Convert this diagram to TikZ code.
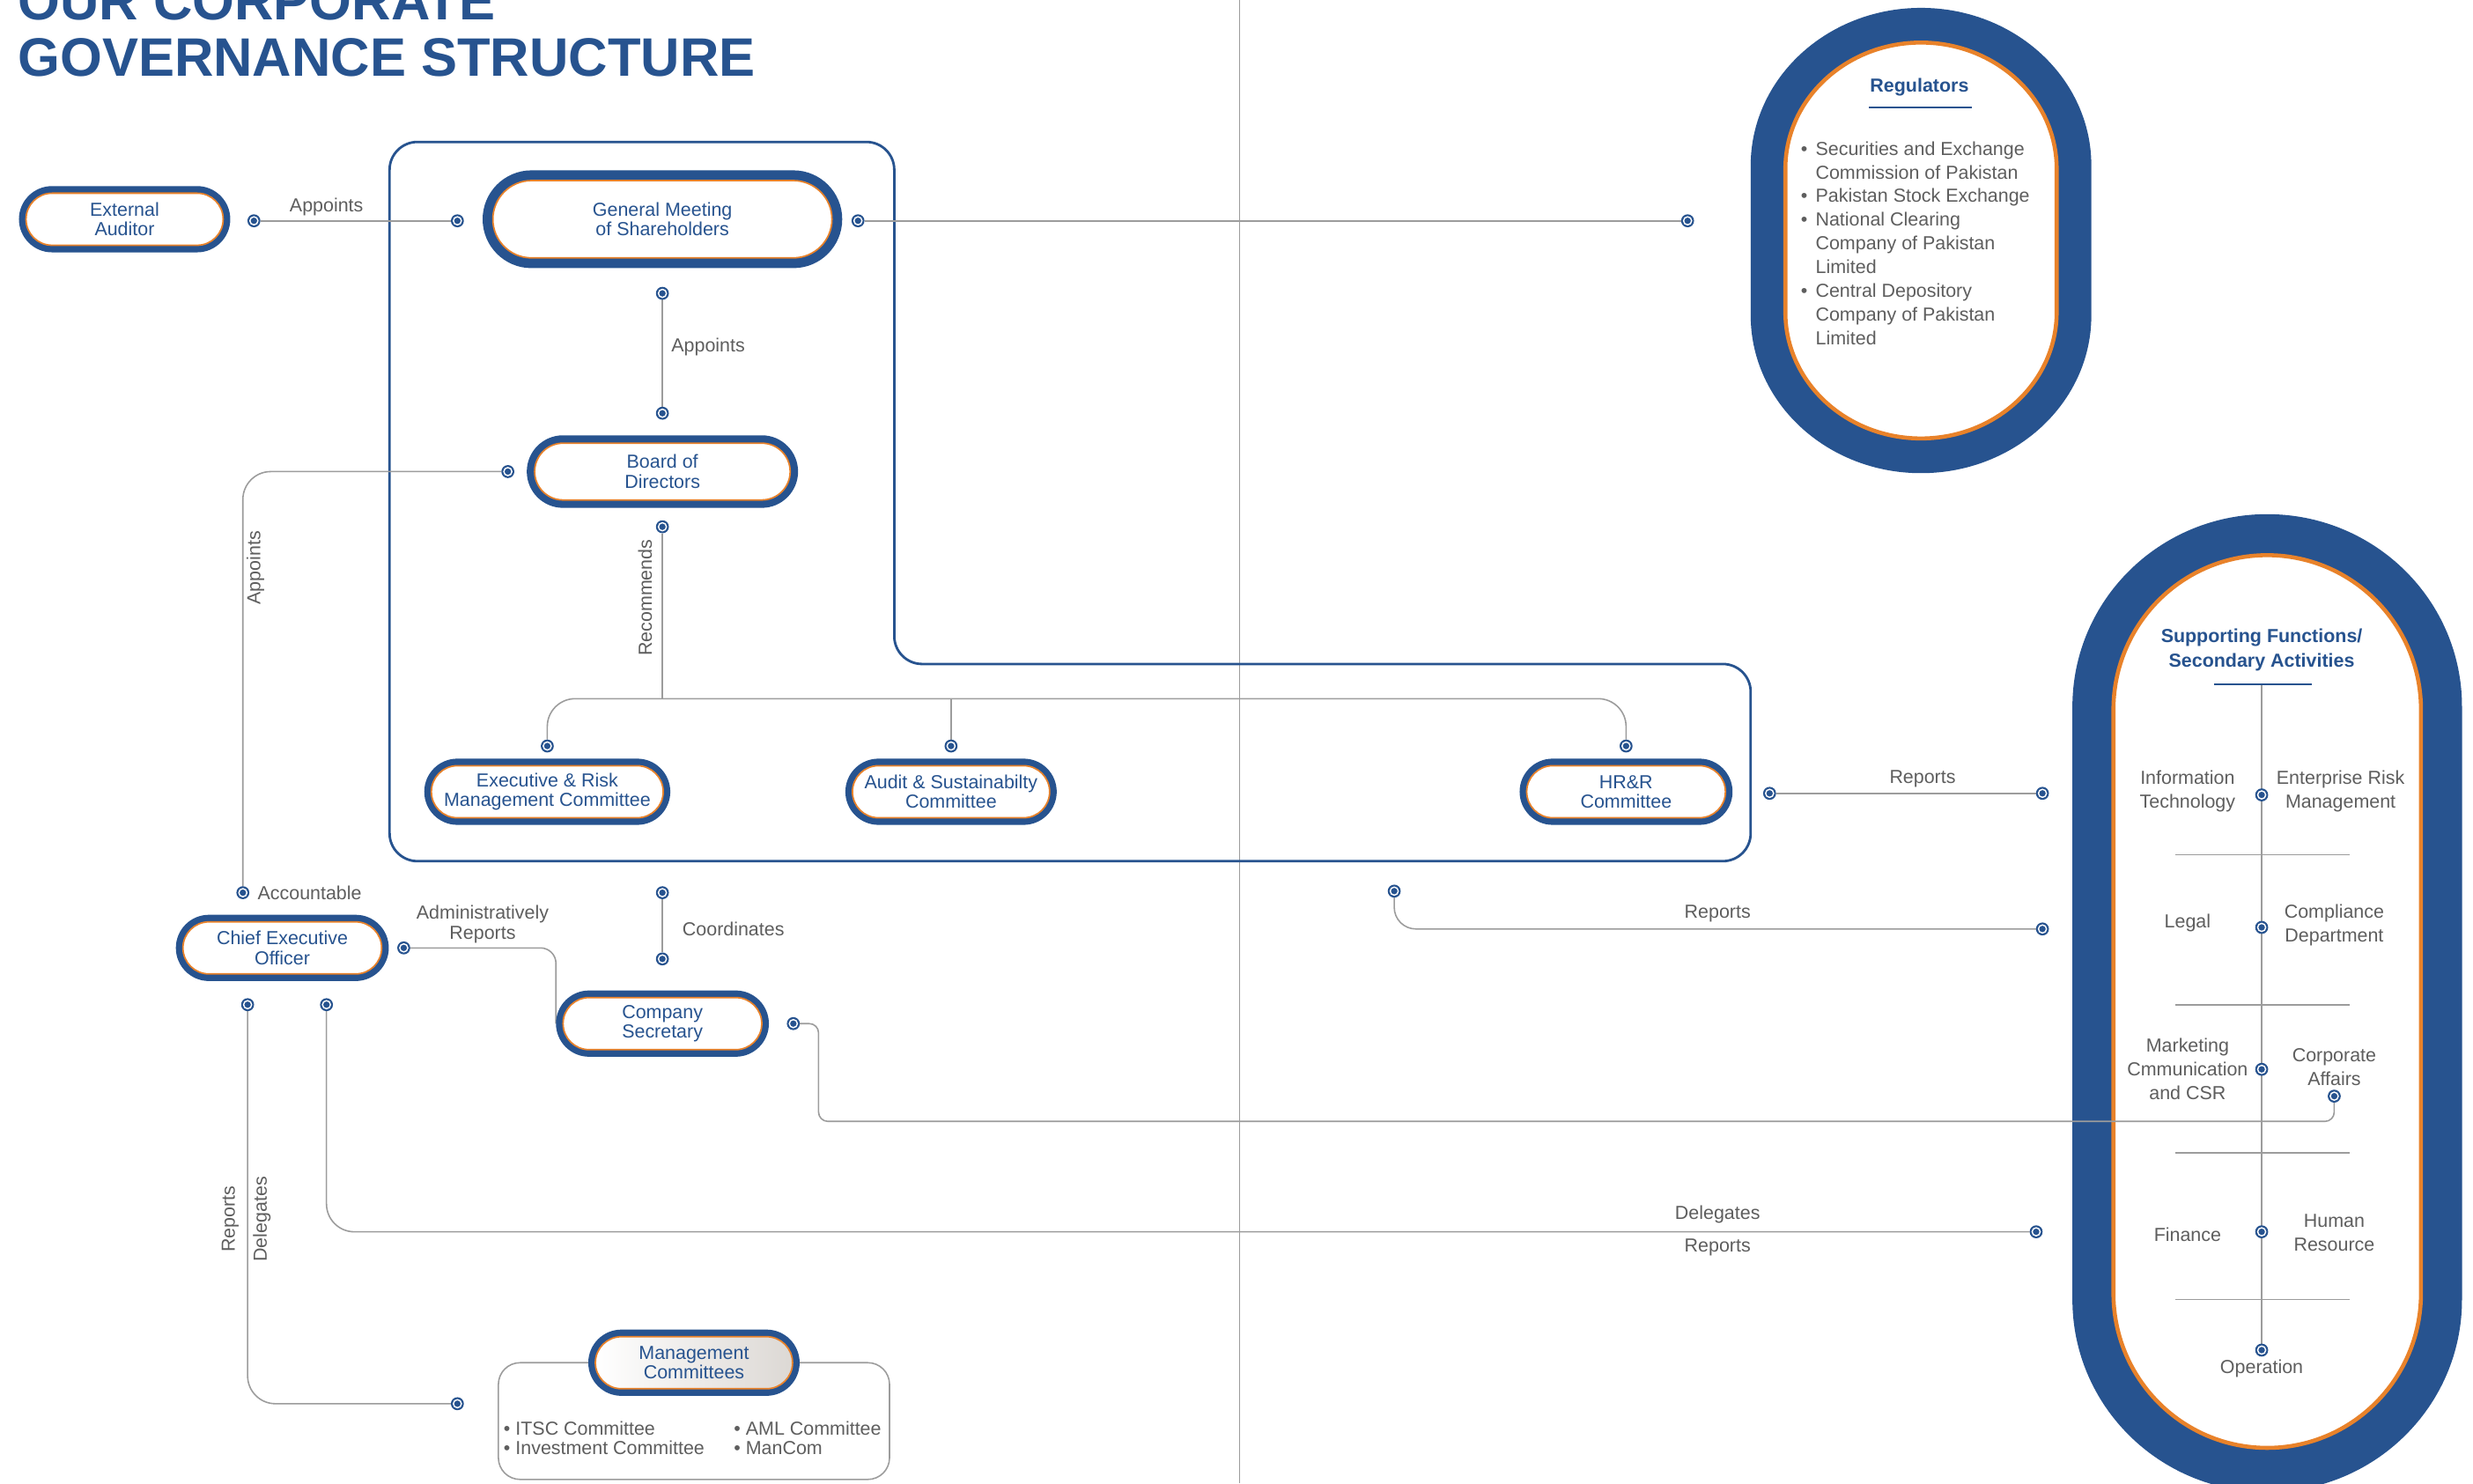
\documentclass[tikz,border=0pt]{standalone}
\usepackage{fontspec}
\setmainfont{Liberation Sans}
\usetikzlibrary{shapes.misc}

\definecolor{cblue}{HTML}{27538F}
\definecolor{corange}{HTML}{E8822A}
\definecolor{ctext}{HTML}{5E5E5E}
\definecolor{cline}{HTML}{9C9C9C}
\definecolor{cshade}{HTML}{DCD8D4}

% drawing unit
\newdimen\pxu \pxu=0.1791mm

\pgfdeclarelayer{back}
\pgfdeclarelayer{wires}
\pgfsetlayers{back,wires,main}

% pill-shaped box: [extra inner style]{name}{(pos)}{width}{height}{band}{text}
\newcommand\pill[7][]{%
  \node[outerpill, minimum width={#4*\pxu}, minimum height={#5*\pxu}] (#2) at #3 {};
  \node[innerpill, minimum width={(#4-2*#6)*\pxu}, minimum height={(#5-2*#6)*\pxu}, #1] (#2-in) at (#2.center) {#7};%
}
% tall capsule: {style}{cx}{top}{bottom}{rx}{ry}
\newcommand\capsule[6]{%
  \path[#1] (#2-#5,#3+#6) arc[start angle=180, end angle=360, x radius=#5, y radius=#6]
    -- (#2+#5,#4-#6) arc[start angle=0, end angle=180, x radius=#5, y radius=#6] -- cycle;%
}

\begin{document}
\begin{tikzpicture}[x=\pxu, y=-\pxu,
  outerpill/.style={rounded rectangle, fill=cblue, inner sep=0pt, outer sep=0pt},
  innerpill/.style={rounded rectangle, fill=white, draw=corange, line width=0.5pt,
    inner sep=0pt, outer sep=0pt, text=cblue, align=center,
    font=\fontsize{6.1}{6.4}\selectfont},
  jdot/.style={circle, inner sep=0pt, outer sep=0pt, minimum size=4.2pt, fill=cblue,
    path picture={\draw[white, line width=0.4pt] (path picture bounding box.center) circle[radius=1.3pt];}},
  conn/.style={draw=cline, line width=0.45pt},
  lbl/.style={text=ctext, font=\fontsize{6.1}{7.2}\selectfont, inner sep=0pt, align=center},
  listtxt/.style={text=ctext, font=\fontsize{6.1}{7.65}\selectfont, inner sep=0pt, align=center},
  heading/.style={text=cblue, font=\bfseries\fontsize{6.1}{8.15}\selectfont, inner sep=0pt, align=center},
  sep/.style={draw=cline, line width=0.45pt},
]
\useasboundingbox (0,0) rectangle (1568,940.4);
\clip (0,0) rectangle (1568,940.4);

% ---------- background shapes ----------
\begin{pgfonlayer}{back}
  \fill[white] (0,0) rectangle (1568,940.4);
  \draw[cline, line width=0.45pt] (786,0) -- (786,940.4);
  % board group outline
  \draw[cblue, line width=0.8pt, rounded corners=9pt]
    (247,90) -- (567,90) -- (567,421) -- (1110,421) -- (1110,546) -- (247,546) -- cycle;
  % regulators capsule
  \capsule{fill=cblue}{1218}{5}{300}{108}{100}
  \capsule{fill=white, draw=corange, line width=1.3pt}{1218}{27}{278}{86}{80}
  % supporting functions capsule
  \capsule{fill=cblue}{1437.5}{326}{946}{123.5}{122}
  \capsule{fill=white, draw=corange, line width=1.3pt}{1437.5}{352}{918}{97.5}{98}
  % management committees frame
  \draw[cline, line width=0.45pt, rounded corners=7pt] (316,864) rectangle (564,938);
\end{pgfonlayer}

% ---------- title ----------
\node[anchor=base west, inner sep=0pt, text=cblue, font=\bfseries\fontsize{17.5}{18}\selectfont] (t1) at (11,12.5) {OUR CORPORATE};
\node[anchor=base west, inner sep=0pt, text=cblue, font=\bfseries\fontsize{17.5}{18}\selectfont] (t2) at (11,48.5) {GOVERNANCE STRUCTURE};

% ---------- boxes ----------
\pill{ea}{(79,139)}{134}{42}{4.5}{External\\Auditor}
\pill{gm}{(420,139)}{228}{62}{6.5}{General Meeting\\of Shareholders}
\pill{bod}{(420,299)}{172}{46}{5}{Board of\\Directors}
\pill{er}{(347,502)}{156}{42}{4.5}{Executive \& Risk\\Management Committee}
\pill{au}{(603,502)}{134}{42}{4.5}{Audit \& Sustainabilty\\Committee}
\pill{hr}{(1031,502)}{135}{42}{4.5}{HR\&R\\Committee}
\pill{ceo}{(179,601)}{135}{42}{4.5}{Chief Executive\\Officer}
\pill{cs}{(420,649)}{135}{42}{4.5}{Company\\Secretary}
\pill[left color=white, right color=cshade]{mc}{(440,864)}{134}{42}{4.5}{Management\\Committees}

% ---------- regulators ----------
\node[heading] (regt) at (1217,55.5) {Regulators};
\draw[cblue, line width=0.6pt] (1185,68) -- (1250,68);
\node[text=ctext, font=\fontsize{6.1}{7.65}\selectfont, inner sep=0pt, anchor=north west] (regl) at (1141.5,87.5) {%
  \begin{tabular}{@{}l@{\hspace{2.6pt}}l@{}}
  • & Securities and Exchange\\
    & Commission of Pakistan\\
  • & Pakistan Stock Exchange\\
  • & National Clearing\\
    & Company of Pakistan\\
    & Limited\\
  • & Central Depository\\
    & Company of Pakistan\\
    & Limited
  \end{tabular}};

% ---------- supporting functions ----------
\node[heading] (sft) at (1434,412) {Supporting Functions/\\Secondary Activities};
\draw[cblue, line width=0.6pt] (1404,434) -- (1466,434);
\coordinate (sftop) at (1434,434);
\foreach \yy in {542,637,731,824} \draw[sep] (1379,\yy) -- (1490,\yy);
\node[listtxt] (it) at (1387,501.5) {Information\\Technology};
\node[listtxt] (erm) at (1484,501.5) {Enterprise Risk\\Management};
\node[listtxt] (lg) at (1387,585) {Legal};
\node[listtxt] (cd) at (1480,586.5) {Compliance\\Department};
\node[listtxt] (mk) at (1387,678) {Marketing\\Cmmunication\\and CSR};
\node[listtxt] (ca) at (1480,676.5) {Corporate\\Affairs};
\node[listtxt] (fi) at (1387,783) {Finance};
\node[listtxt] (hu) at (1480,781.5) {Human\\Resource};
\node[listtxt] (op) at (1434,868) {Operation};

% ---------- management committees list ----------
\node[text=ctext, font=\fontsize{6.1}{6.37}\selectfont, inner sep=0pt, anchor=north west] (mcl) at (319,900.5) {%
  \begin{tabular}{@{}l@{}}• ITSC Committee\\• Investment Committee\end{tabular}};
\node[text=ctext, font=\fontsize{6.1}{6.37}\selectfont, inner sep=0pt, anchor=north west] (mcr) at (465,900.5) {%
  \begin{tabular}{@{}l@{}}• AML Committee\\• ManCom\end{tabular}};

% ---------- connector dots ----------
\node[jdot] (eaR) at (161,140) {};
\node[jdot] (gmL) at (290,140) {};
\node[jdot] (gmR) at (544,140) {};
\node[jdot] (regL) at (1070,140) {};
\node[jdot] (gmB) at (420,186) {};
\node[jdot] (bodT) at (420,262) {};
\node[jdot] (bodL) at (322,299) {};
\node[jdot] (acc) at (154,566) {};
\node[jdot] (bodB) at (420,334) {};
\node[jdot] (erT) at (347,473) {};
\node[jdot] (auT) at (603,473) {};
\node[jdot] (hrT) at (1031,473) {};
\node[jdot] (hrR) at (1122,503) {};
\node[jdot] (sfA) at (1295,503) {};
\node[jdot] (grp) at (884,565) {};
\node[jdot] (sfB) at (1295,589) {};
\node[jdot] (coT) at (420,566) {};
\node[jdot] (csT) at (420,608) {};
\node[jdot] (ceoR) at (256,601) {};
\node[jdot] (csR) at (503,649) {};
\node[jdot] (caD) at (1480,695) {};
\node[jdot] (ceoB1) at (157,637) {};
\node[jdot] (ceoB2) at (207,637) {};
\node[jdot] (mcD) at (290,890) {};
\node[jdot] (sfD) at (1291,781) {};
\node[jdot] (s1) at (1434,504) {};
\node[jdot] (s2) at (1434,588) {};
\node[jdot] (s3) at (1434,678) {};
\node[jdot] (s4) at (1434,781) {};
\node[jdot] (s5) at (1434,856) {};

\coordinate (rjoin) at (420,443);
\coordinate (csk) at (519,711);

% ---------- connectors ----------
\begin{pgfonlayer}{wires}
  \draw[conn] (eaR) -- (gmL);
  \draw[conn] (gmR) -- (regL);
  \draw[conn] (gmB) -- (bodT);
  \draw[conn, rounded corners=9pt] (bodL) -| (acc);
  \draw[conn] (bodB) -- (rjoin);
  \draw[conn, rounded corners=9pt] (erT) |- (rjoin);
  \draw[conn, rounded corners=9pt] (hrT) |- (rjoin);
  \draw[conn] (auT) -- (auT |- rjoin);
  \draw[conn] (hrR) -- (sfA);
  \draw[conn, rounded corners=7pt] (grp) |- (sfB);
  \draw[conn] (coT) -- (csT);
  \draw[conn, rounded corners=5pt] (ceoR) -| (cs.west);
  \draw[conn, rounded corners=3pt] (csR) -| (csk) -| (caD);
  \draw[conn, rounded corners=9pt] (ceoB1) |- (mcD);
  \draw[conn, rounded corners=9pt] (ceoB2) |- (sfD);
  \draw[conn] (sftop) -- (s5);
\end{pgfonlayer}

% ---------- connector labels ----------
\node[lbl] (l1) at (207,131) {Appoints};
\node[lbl] (l2) at (449,220) {Appoints};
\node[lbl, rotate=90] (l3) at (162,360) {Appoints};
\node[lbl, anchor=west] (l4) at (163,566) {Accountable};
\node[lbl, rotate=90] (l5) at (409,379) {Recommends};
\node[lbl, font=\fontsize{6.1}{6.3}\selectfont] (l6) at (306,586) {Administratively\\Reports};
\node[lbl] (l7) at (465,589) {Coordinates};
\node[lbl] (l8) at (1219,494) {Reports};
\node[lbl] (l9) at (1089,579) {Reports};
\node[lbl] (l10) at (1089,770) {Delegates};
\node[lbl] (l11) at (1089,791) {Reports};
\node[lbl, rotate=90] (l12) at (146,773) {Reports};
\node[lbl, rotate=90] (l13) at (166,773) {Delegates};
\end{tikzpicture}
\end{document}
